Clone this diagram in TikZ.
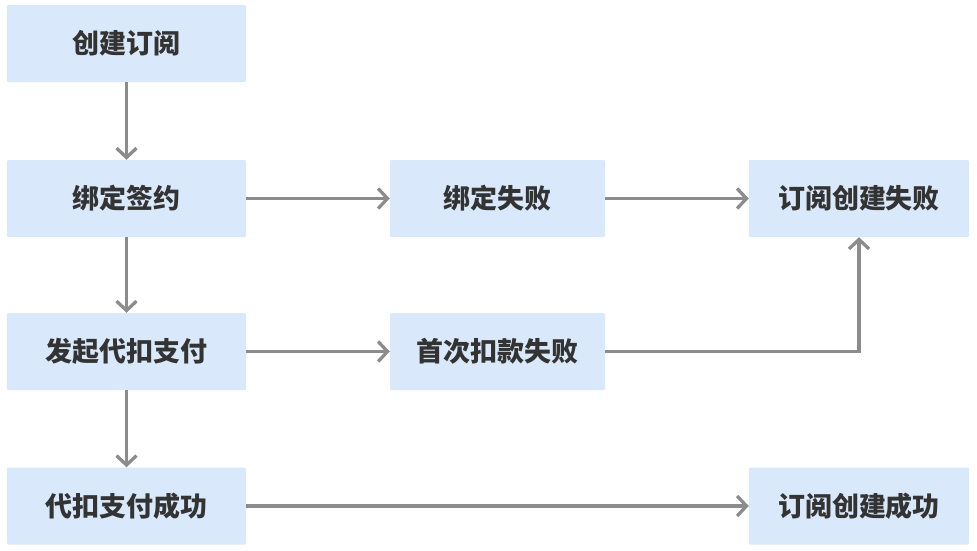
\documentclass[tikz,border=0pt]{standalone}
\usepackage{fontspec}
\newfontfamily\cjk{Noto Sans CJK SC}
\usetikzlibrary{positioning, arrows.meta}
\definecolor{boxblue}{HTML}{DAE8FC}
\definecolor{linegray}{HTML}{8C8C8C}
\definecolor{textgray}{HTML}{333333}
\tikzset{stage/.style={fill=boxblue,rounded corners=1pt,minimum width=7.17cm,minimum height=2.31cm,
                       inner sep=0pt,text=textgray,font=\cjk\bfseries\fontsize{23}{27}\selectfont},
         result/.style={stage,minimum width=6.6cm},
         flow/.style={draw=linegray,line width=2.8pt,-{Straight Barb[length=8pt,width=17pt,line width=2.8pt]}},
        }

\begin{document}
\begin{tikzpicture}[x=0.03cm,y=-0.03cm]
        \useasboundingbox(0,0)rectangle(977,550);
        \node[stage](create)at(126.5,43.5){创建订阅};
        \node[stage](bind)at(126.5,198.5){绑定签约};
        \node[stage](pay)at(126.5,351.5){发起代扣支付};
        \node[stage](paid)at(126.5,506){代扣支付成功};
        \node[stage,minimum width=6.45cm](bindfail)at(497.5,198.5){绑定失败};
        \node[stage,minimum width=6.45cm](payfail)at(497.5,351.5){首次扣款失败};
        \node[result](subfail)at(859,198.5){订阅创建失败};
        \node[result](subok)at(859,506){订阅创建成功};

        \draw[flow](create.270)--(bind.90);
        \draw[flow](bind.270)--(pay.90);
        \draw[flow](pay.270)--(paid.90);
        \draw[flow](bind.0)--(bindfail.180);
        \draw[flow](bindfail.0)--(subfail.180);
        \draw[flow](pay.0)--(payfail.180);
        \draw[flow](payfail.0)-|(subfail.270);
        \draw[flow](paid.0)--(subok.180);
    \end{tikzpicture}
\end{document}
